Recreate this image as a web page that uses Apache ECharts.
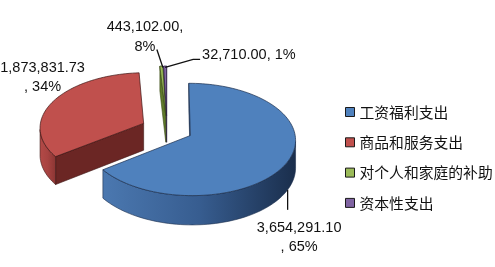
<!DOCTYPE html>
<html><head><meta charset="utf-8">
<script src="https://cdn.jsdelivr.net/npm/echarts@6/dist/echarts.min.js"></script>
<style>html,body{margin:0;padding:0;background:#fff}#c{width:495px;height:267px}</style>
</head><body><div id="c"></div>
<script>
// ---- data ----
const categories = ['工资福利支出', '商品和服务支出', '对个人和家庭的补助', '资本性支出'];
const values = [3654291.10, 1873831.73, 443102.00, 32710.00];
const percents = [65, 34, 8, 1];          // percentages as printed on the labels
const shares = [65, 34, 0.5, 0.5];        // share of the circle each slice occupies in the picture

// ---- style ----
const colors = ['#4f81bd', '#c0504d', '#9bbb59', '#8064a2'];
const shade = [
  {wall: ['#4b78b0', '#375d90', '#1a2e4c'], cut: '#2c4a74', edge: '#1c2f4d'},
  {wall: ['#b44a47', '#a74341', '#8a3533'], cut: '#6b2624', edge: '#3d1413'},
  {wall: ['#7f9a48', '#6e873c', '#5f7a2a'], cut: '#5f7a2a', edge: '#3b4a18'},
  {wall: ['#6a5388', '#5d4878', '#4f3a6b'], cut: '#4f3a6b', edge: '#2c2040'}
];
const G = {cx: 167, cy: 129.2, rx: 104, ry: 55, depth: 27, persp: 0.07, explode: 0.25, start: 90};
const labelLayout = [
  {anchor: 'bottom', dx: 11.5, dy: 47.5, align: 'center', wrap: 'before', leader: [[0, 0], [0, 20]]},
  {anchor: 'top', dx: -11, dy: -23.5, align: 'center', wrap: 'before', leader: null},
  {anchor: 'top', dx: -16.4, dy: -29, align: 'center', wrap: 'after', leader: [[1.5, 1.5], [-4.5, -16.5]]},
  {anchor: 'top', dx: 37, dy: -11.3, align: 'left', wrap: 'none', leader: [[0, 1.5], [28, -6.6], [35, -6.6]]}
];
const labelFont = '"Liberation Sans Narrow", "Liberation Sans", sans-serif';
const labelSize = 14.5;

function fmt(v) {
  const s = v.toFixed(2).split('.');
  return s[0].replace(/\B(?=(\d{3})+(?!\d))/g, ',') + '.' + s[1];
}
function labelText(i) {
  const n = fmt(values[i]), p = percents[i] + '%', w = labelLayout[i].wrap;
  if (w === 'before') return n + '\n, ' + p;
  if (w === 'after') return n + ',\n' + p;
  return n + ', ' + p;
}

const total = shares.reduce((a, b) => a + b, 0);
const D = Math.PI / 180;
function sliceAngles(i) {
  let c = 0;
  for (let k = 0; k < i; k++) c += shares[k];
  const a0 = G.start - c / total * 360;
  const a1 = a0 - shares[i] / total * 360;
  return [a1, a0];
}
function proj(px, py, down) {
  const f = 1 / (1 + G.persp * py);
  return [G.cx + G.rx * px * f, G.cy + (-G.ry * py + down) * f];
}
const V = [0, -1 / G.persp];

function grad(stops) {
  return {type: 'linear', x: 0, y: 0, x2: 1, y2: 0,
    colorStops: stops.map((c, k) => ({offset: k / (stops.length - 1), color: c}))};
}

function buildSlice(i) {
  const [a1, a0] = sliceAngles(i);
  const mid = (a0 + a1) / 2 * D;
  const ox = G.explode * Math.cos(mid), oy = G.explode * Math.sin(mid);
  const n = Math.max(2, Math.ceil((a0 - a1) / 2));
  const arc = [];
  for (let k = 0; k <= n; k++) {
    const t = (a1 + (a0 - a1) * k / n) * D;
    arc.push([ox + Math.cos(t), oy + Math.sin(t), Math.cos(t), Math.sin(t)]);
  }
  const sh = shade[i];
  const children = [];
  // outer wall
  let run = [];
  const flush = () => {
    if (run.length >= 2) {
      const top = run.map(p => proj(p[0], p[1], 0));
      const bot = run.map(p => proj(p[0], p[1], G.depth)).reverse();
      const avg = run.reduce((s, p) => s + p[1], 0) / run.length;
      children.push({type: 'polygon', z2: 100 - avg * 40, shape: {points: top.concat(bot)},
        style: {fill: grad(sh.wall), stroke: sh.edge, lineWidth: 0.6}});
    }
    run = [];
  };
  for (const p of arc) {
    const vis = p[2] * (V[0] - p[0]) + p[3] * (V[1] - p[1]) > 0;
    if (vis) run.push(p); else flush();
  }
  flush();
  // radial cut faces
  const faces = [[a0, [-Math.sin(a0 * D), Math.cos(a0 * D)]], [a1, [Math.sin(a1 * D), -Math.cos(a1 * D)]]];
  for (const [a, nr] of faces) {
    const ex = ox + Math.cos(a * D), ey = oy + Math.sin(a * D);
    const qx = (ox + ex) / 2, qy = (oy + ey) / 2;
    if (nr[0] * (V[0] - qx) + nr[1] * (V[1] - qy) > 0) {
      children.push({type: 'polygon', z2: 100 - qy * 40,
        shape: {points: [proj(ox, oy, 0), proj(ex, ey, 0), proj(ex, ey, G.depth), proj(ox, oy, G.depth)]},
        style: {fill: sh.cut, stroke: sh.edge, lineWidth: 0.6}});
    }
  }
  // top face
  const topPts = [proj(ox, oy, 0)].concat(arc.map(p => proj(p[0], p[1], 0)));
  children.push({type: 'polygon', z2: 500, shape: {points: topPts},
    style: {fill: colors[i], stroke: sh.edge, lineWidth: 0.7}});
  // label
  const L = labelLayout[i];
  const rx = ox + Math.cos(mid), ry = oy + Math.sin(mid);
  const anc = proj(rx, ry, L.anchor === 'bottom' ? G.depth : 0);
  if (L.leader) {
    children.push({type: 'polyline', z2: 600,
      shape: {points: L.leader.map(q => [anc[0] + q[0], anc[1] + q[1]])},
      style: {stroke: '#111', lineWidth: 1.3, fill: null}});
  }
  children.push({type: 'text', z2: 600, style: {
    text: labelText(i), x: anc[0] + L.dx, y: anc[1] + L.dy,
    align: L.align, verticalAlign: 'middle', fontSize: labelSize, fontFamily: labelFont,
    lineHeight: 19.5, fill: '#111'}});
  return children;
}

const chart = echarts.init(document.getElementById('c'), null, {renderer: 'canvas'});
chart.setOption({
  animation: false,
  backgroundColor: '#fff',
  legend: {
    orient: 'vertical', left: 340, top: 98.5, itemWidth: 9, itemHeight: 9, itemGap: 13.3,
    icon: 'rect', selectedMode: false, data: categories,
    itemStyle: {borderColor: '#1a1a1a', borderWidth: 1},
    textStyle: {fontSize: 14.8, fontFamily: '"Noto Sans CJK SC"', color: '#111', lineHeight: 17}
  },
  series: categories.map((name, i) => ({
    type: 'custom', name, coordinateSystem: 'none', silent: true, animation: false,
    itemStyle: {color: colors[i]},
    data: [values[i]],
    renderItem: () => ({type: 'group', children: buildSlice(i)})
  }))
});
</script></body></html>
